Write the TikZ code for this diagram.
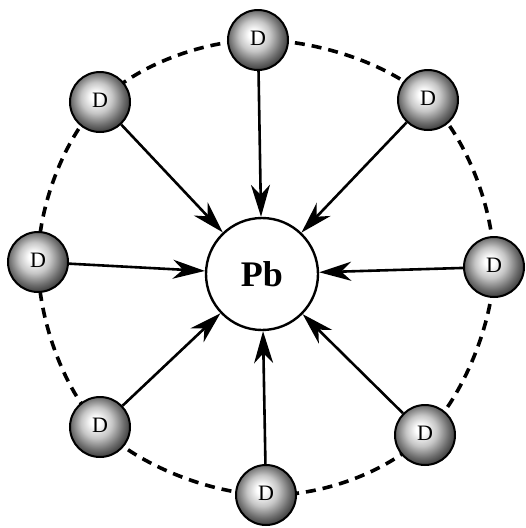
\documentclass[tikz,border=0pt]{standalone}
\usepackage{fontspec}
\setmainfont{Liberation Serif}
\usetikzlibrary{arrows.meta,shadings}
\pgfdeclareradialshading{dsphere}{\pgfpoint{-4bp}{5bp}}{%
  color(0bp)=(white); color(4bp)=(white); color(13bp)=(gray!45);
  color(22bp)=(gray!85!black); color(30bp)=(black!85); color(50bp)=(black!85)}
\begin{document}
\begin{tikzpicture}[x=1pt,y=-1pt,
  ball/.style={circle, minimum size=60pt, inner sep=0pt, shading=dsphere, draw=black, line width=2pt, font=\fontsize{22}{26}\selectfont},
  pbnode/.style={circle, minimum size=112pt, inner sep=0pt, draw=black, line width=2.4pt, fill=white, font=\fontsize{36}{40}\selectfont\bfseries},
  ring/.style={line width=3.6pt, dash pattern=on 10pt off 7pt},
  bond/.style={line width=2.6pt, -{Stealth[length=32pt, width=19pt, inset=10pt]}}
]
\useasboundingbox (0,0) rectangle (526,528);
\draw[ring] plot[smooth cycle, tension=0.6] coordinates {(258,40) (428,100) (494,267) (425,435) (266,495) (100,427) (38,262) (100,102)};
\node[pbnode] (Pb) at (262,274) {Pb};
\node[ball] (dT)  at (258,40)  {\raisebox{3pt}{D}};
\node[ball] (dTR) at (428,100) {\raisebox{3pt}{D}};
\node[ball] (dR)  at (494,267) {\raisebox{3pt}{D}};
\node[ball] (dBR) at (425,435) {\raisebox{3pt}{D}};
\node[ball] (dB)  at (266,495) {\raisebox{3pt}{D}};
\node[ball] (dBL) at (100,427) {\raisebox{3pt}{D}};
\node[ball] (dL)  at (38,262)  {\raisebox{3pt}{D}};
\node[ball] (dTL) at (100,102) {\raisebox{3pt}{D}};
\foreach \n in {dT,dTR,dR,dBR,dB,dBL,dL,dTL}
  \draw[bond] (\n) -- (Pb);
\end{tikzpicture}
\end{document}
